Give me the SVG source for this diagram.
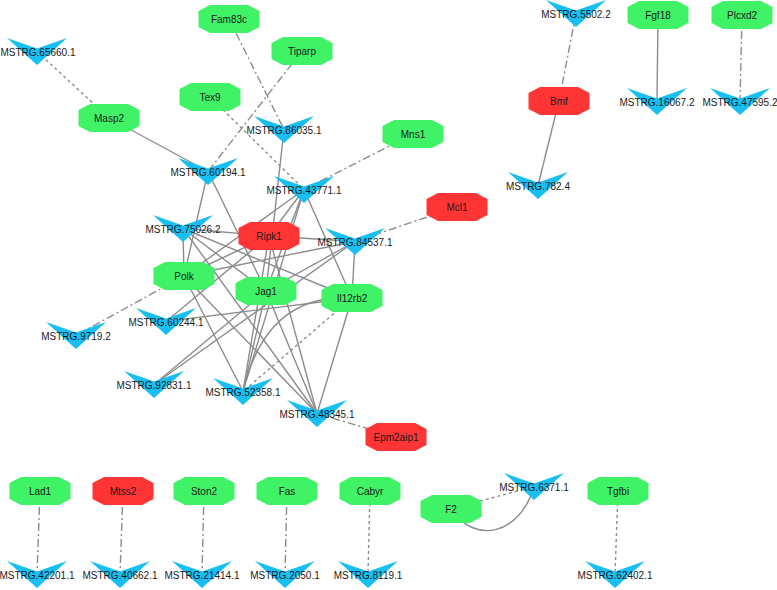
<svg xmlns="http://www.w3.org/2000/svg" xmlns:xlink="http://www.w3.org/1999/xlink" width="777" height="590" viewBox="0 0 777 590">
<style>
.e{fill:none;stroke:#8c8c8c;stroke-width:1.4}
.d{stroke-dasharray:3,3}
.dd{stroke-dasharray:8,3,2,3}
.g{fill:#3ff266}
.r{fill:#ff3535}
.b{fill:#17bff2}
text{font-family:"Liberation Sans",Arial,sans-serif;font-size:10px;fill:#1a1a1a;text-anchor:middle}
</style>
<defs>
<polygon id="oct" points="-19,-14 19,-14 30.5,-8 30.5,8 19,14 -19,14 -30.5,8 -30.5,-8"/>
<polygon id="chev" points="-30,-13.5 0,-3 30,-13.5 0,13.5"/>
</defs>
<rect width="777" height="590" fill="#fff"/>
<g id="edges">
<line class="e d" x1="37" y1="51.5" x2="109" y2="118"/>
<line class="e" x1="109" y1="118" x2="208" y2="171.5"/>
<line class="e dd" x1="229" y1="19" x2="284" y2="129.5"/>
<line class="e dd" x1="302" y1="51" x2="208" y2="171.5"/>
<line class="e d" x1="210" y1="97" x2="304" y2="189.5"/>
<line class="e dd" x1="413" y1="134" x2="304" y2="189.5"/>
<line class="e dd" x1="457" y1="207" x2="355" y2="241.5"/>
<line class="e dd" x1="184" y1="276" x2="76" y2="335.5"/>
<line class="e d" x1="352" y1="298" x2="243" y2="391.5"/>
<line class="e dd" x1="317" y1="413.5" x2="396" y2="437"/>
<line class="e dd" x1="576" y1="13.5" x2="559" y2="101"/>
<line class="e" x1="559" y1="101" x2="538" y2="185.5"/>
<line class="e" x1="658" y1="15" x2="657" y2="101.5"/>
<line class="e dd" x1="742" y1="15" x2="740" y2="101.5"/>
<line class="e dd" x1="40" y1="491" x2="37" y2="574.5"/>
<line class="e dd" x1="123" y1="491" x2="120" y2="574.5"/>
<line class="e dd" x1="204" y1="491" x2="202" y2="574.5"/>
<line class="e dd" x1="287" y1="491" x2="285" y2="574.5"/>
<line class="e d" x1="370" y1="491" x2="368" y2="574.5"/>
<line class="e d" x1="451" y1="509" x2="534" y2="486.5"/>
<path class="e" d="M451,509 C475,545 520,535 534,486.5"/>
<line class="e d" x1="618" y1="491" x2="615" y2="574.5"/>
<line class="e" x1="208" y1="171.5" x2="184" y2="276"/>
<line class="e" x1="208" y1="171.5" x2="266" y2="291"/>
<line class="e" x1="284" y1="129.5" x2="266" y2="291"/>
<line class="e" x1="304" y1="189.5" x2="269" y2="236"/>
<line class="e" x1="304" y1="189.5" x2="184" y2="276"/>
<line class="e" x1="304" y1="189.5" x2="266" y2="291"/>
<line class="e" x1="304" y1="189.5" x2="352" y2="298"/>
<line class="e" x1="304" y1="189.5" x2="243" y2="391.5"/>
<line class="e" x1="183" y1="228.5" x2="184" y2="276"/>
<line class="e" x1="183" y1="228.5" x2="269" y2="236"/>
<line class="e" x1="183" y1="228.5" x2="266" y2="291"/>
<line class="e" x1="183" y1="228.5" x2="352" y2="298"/>
<line class="e" x1="183" y1="228.5" x2="317" y2="413.5"/>
<line class="e" x1="269" y1="236" x2="355" y2="241.5"/>
<line class="e" x1="269" y1="236" x2="184" y2="276"/>
<line class="e" x1="269" y1="236" x2="166" y2="321.5"/>
<line class="e" x1="269" y1="236" x2="243" y2="391.5"/>
<line class="e" x1="269" y1="236" x2="317" y2="413.5"/>
<line class="e" x1="184" y1="276" x2="355" y2="241.5"/>
<line class="e" x1="184" y1="276" x2="243" y2="391.5"/>
<line class="e" x1="184" y1="276" x2="317" y2="413.5"/>
<line class="e" x1="266" y1="291" x2="355" y2="241.5"/>
<line class="e" x1="266" y1="291" x2="243" y2="391.5"/>
<line class="e" x1="266" y1="291" x2="154" y2="384.5"/>
<line class="e" x1="266" y1="291" x2="317" y2="413.5"/>
<line class="e" x1="352" y1="298" x2="355" y2="241.5"/>
<line class="e" x1="352" y1="298" x2="317" y2="413.5"/>
<line class="e" x1="352" y1="298" x2="166" y2="321.5"/>
<path class="e" d="M352,298 C300,295 260,320 243,391.5"/>
<line class="e" x1="355" y1="241.5" x2="154" y2="384.5"/>
</g>
<g id="n-65660"><use href="#chev" class="b" x="37" y="51.5"/><text x="38" y="56">MSTRG.65660.1</text></g>
<g id="n-86035"><use href="#chev" class="b" x="284" y="129.5"/><text x="284" y="134">MSTRG.86035.1</text></g>
<g id="n-60194"><use href="#chev" class="b" x="208" y="171.5"/><text x="208" y="176">MSTRG.60194.1</text></g>
<g id="n-43771"><use href="#chev" class="b" x="304" y="189.5"/><text x="304" y="194">MSTRG.43771.1</text></g>
<g id="n-75026"><use href="#chev" class="b" x="183" y="228.5"/><text x="183" y="233">MSTRG.75026.2</text></g>
<g id="n-84537"><use href="#chev" class="b" x="355" y="241.5"/><text x="355" y="246">MSTRG.84537.1</text></g>
<g id="n-60244"><use href="#chev" class="b" x="166" y="321.5"/><text x="166" y="326">MSTRG.60244.1</text></g>
<g id="n-9719"><use href="#chev" class="b" x="76" y="335.5"/><text x="76" y="340">MSTRG.9719.2</text></g>
<g id="n-92831"><use href="#chev" class="b" x="154" y="384.5"/><text x="154" y="389">MSTRG.92831.1</text></g>
<g id="n-52358"><use href="#chev" class="b" x="243" y="391.5"/><text x="243" y="396">MSTRG.52358.1</text></g>
<g id="n-48345"><use href="#chev" class="b" x="317" y="413.5"/><text x="317" y="418">MSTRG.48345.1</text></g>
<g id="n-5502"><use href="#chev" class="b" x="576" y="13.5"/><text x="576" y="18">MSTRG.5502.2</text></g>
<g id="n-16067"><use href="#chev" class="b" x="657" y="101.5"/><text x="657" y="106">MSTRG.16067.2</text></g>
<g id="n-47595"><use href="#chev" class="b" x="740" y="101.5"/><text x="740" y="106">MSTRG.47595.2</text></g>
<g id="n-782"><use href="#chev" class="b" x="538" y="185.5"/><text x="538" y="190">MSTRG.782.4</text></g>
<g id="n-42201"><use href="#chev" class="b" x="37" y="574.5"/><text x="37" y="579">MSTRG.42201.1</text></g>
<g id="n-40662"><use href="#chev" class="b" x="120" y="574.5"/><text x="120" y="579">MSTRG.40662.1</text></g>
<g id="n-21414"><use href="#chev" class="b" x="202" y="574.5"/><text x="202" y="579">MSTRG.21414.1</text></g>
<g id="n-2050"><use href="#chev" class="b" x="285" y="574.5"/><text x="285" y="579">MSTRG.2050.1</text></g>
<g id="n-8119"><use href="#chev" class="b" x="368" y="574.5"/><text x="368" y="579">MSTRG.8119.1</text></g>
<g id="n-6371"><use href="#chev" class="b" x="534" y="486.5"/><text x="534" y="491">MSTRG.6371.1</text></g>
<g id="n-62402"><use href="#chev" class="b" x="615" y="574.5"/><text x="615" y="579">MSTRG.62402.1</text></g>
<g id="n-Fam83c"><use href="#oct" class="g" x="229" y="19"/><text x="229" y="22.5">Fam83c</text></g>
<g id="n-Tiparp"><use href="#oct" class="g" x="302" y="51"/><text x="302" y="54.5">Tiparp</text></g>
<g id="n-Tex9"><use href="#oct" class="g" x="210" y="97"/><text x="210" y="100.5">Tex9</text></g>
<g id="n-Masp2"><use href="#oct" class="g" x="109" y="118"/><text x="109" y="121.5">Masp2</text></g>
<g id="n-Mns1"><use href="#oct" class="g" x="413" y="134"/><text x="413" y="137.5">Mns1</text></g>
<g id="n-Mcl1"><use href="#oct" class="r" x="457" y="207"/><text x="457" y="210.5">Mcl1</text></g>
<g id="n-Ripk1"><use href="#oct" class="r" x="269" y="236"/><text x="269" y="239.5">Ripk1</text></g>
<g id="n-Polk"><use href="#oct" class="g" x="184" y="276"/><text x="184" y="279.5">Polk</text></g>
<g id="n-Jag1"><use href="#oct" class="g" x="266" y="291"/><text x="266" y="294.5">Jag1</text></g>
<g id="n-Il12rb2"><use href="#oct" class="g" x="352" y="298"/><text x="352" y="301.5">Il12rb2</text></g>
<g id="n-Epm2aip1"><use href="#oct" class="r" x="396" y="437"/><text x="396" y="440.5">Epm2aip1</text></g>
<g id="n-Bmf"><use href="#oct" class="r" x="559" y="101"/><text x="559" y="104.5">Bmf</text></g>
<g id="n-Fgf18"><use href="#oct" class="g" x="658" y="15"/><text x="658" y="18.5">Fgf18</text></g>
<g id="n-Plcxd2"><use href="#oct" class="g" x="742" y="15"/><text x="742" y="18.5">Plcxd2</text></g>
<g id="n-Lad1"><use href="#oct" class="g" x="40" y="491"/><text x="40" y="494.5">Lad1</text></g>
<g id="n-Mtss2"><use href="#oct" class="r" x="123" y="491"/><text x="123" y="494.5">Mtss2</text></g>
<g id="n-Ston2"><use href="#oct" class="g" x="204" y="491"/><text x="204" y="494.5">Ston2</text></g>
<g id="n-Fas"><use href="#oct" class="g" x="287" y="491"/><text x="287" y="494.5">Fas</text></g>
<g id="n-Cabyr"><use href="#oct" class="g" x="370" y="491"/><text x="370" y="494.5">Cabyr</text></g>
<g id="n-F2"><use href="#oct" class="g" x="451" y="509"/><text x="451" y="512.5">F2</text></g>
<g id="n-Tgfbi"><use href="#oct" class="g" x="618" y="491"/><text x="618" y="494.5">Tgfbi</text></g>
</svg>
